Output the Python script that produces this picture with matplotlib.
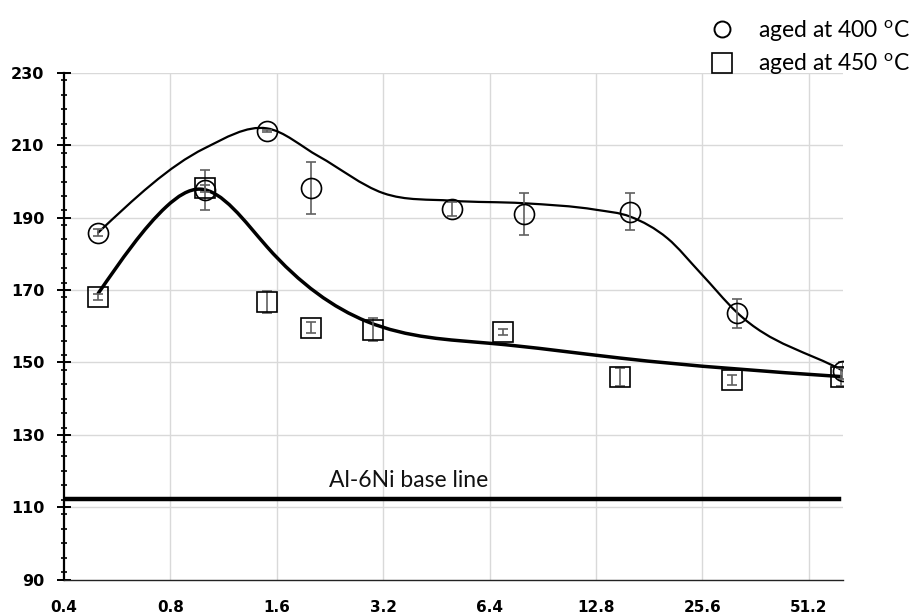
import numpy as np
import matplotlib
matplotlib.use("Agg")
import matplotlib.pyplot as plt
from matplotlib.path import Path
from matplotlib.patches import PathPatch
from matplotlib.lines import Line2D

plt.rcParams['font.family'] = ['Lato', 'DejaVu Sans']
plt.rcParams['mathtext.fontset'] = 'custom'
plt.rcParams['mathtext.rm'] = 'Lato'

# ---------------- data ----------------
x400 = [0.5, 1.0, 1.5, 2.0, 5.0, 8.0, 16.0, 32.0, 64.0]
y400 = [185.9, 197.7, 214.0, 198.2, 192.4, 191.0, 191.7, 163.6, 147.7]
e400 = [1.0, 5.6, 0.3, 7.1, 2.0, 5.7, 5.0, 4.0, 2.3]

x450 = [0.5, 1.0, 1.5, 2.0, 3.0, 7.0, 15.0, 31.0, 63.0]
y450 = [168.1, 198.1, 166.7, 159.6, 159.0, 158.5, 145.9, 145.2, 145.9]
e450 = [0.9, 1.0, 3.0, 1.6, 3.2, 0.8, 2.5, 1.4, 2.5]

# smooth trend-curve anchor points
cx400 = [0.5, 1.0, 1.5, 2.1, 3.2, 5.0, 8.0, 12.8, 16.0, 20.4, 25.3, 32.0, 64.0]
cy400 = [185.9, 209.2, 214.7, 207.0, 196.8, 194.7, 194.0, 192.2, 190.3, 184.3, 174.7, 163.9, 147.7]

cx450 = [0.5, 0.78, 0.97, 1.5, 2.88, 6.4, 15.0, 63.0]
cy450 = [169.1, 193.1, 197.9, 182.0, 161.3, 155.3, 151.2, 146.1]

baseline_y = 112.3
baseline_label = "Al-6Ni base line"

xticks = [0.4, 0.8, 1.6, 3.2, 6.4, 12.8, 25.6, 51.2]
xticklabels = ["0.4", "0.8", "1.6", "3.2", "6.4", "12.8", "25.6", "51.2"]
yticks = [90, 110, 130, 150, 170, 190, 210, 230]

label400 = r"aged at 400 $^{\mathrm{o}}$C"
label450 = r"aged at 450 $^{\mathrm{o}}$C"


def natural_slopes(u, v):
    n = len(u)
    h = np.diff(u)
    A = np.zeros((n, n))
    r = np.zeros(n)
    A[0, 0] = 1.0
    A[-1, -1] = 1.0
    for i in range(1, n - 1):
        A[i, i - 1] = h[i - 1]
        A[i, i] = 2 * (h[i - 1] + h[i])
        A[i, i + 1] = h[i]
        r[i] = 6 * ((v[i + 1] - v[i]) / h[i] - (v[i] - v[i - 1]) / h[i - 1])
    M = np.linalg.solve(A, r)
    m = np.zeros(n)
    for i in range(n - 1):
        m[i] = (v[i + 1] - v[i]) / h[i] - h[i] * (2 * M[i] + M[i + 1]) / 6
    m[-1] = (v[-1] - v[-2]) / h[-1] + h[-1] * (M[-2] + 2 * M[-1]) / 6
    return m


def bessel_slopes(u, v):
    n = len(u)
    h = np.diff(u)
    d = np.diff(v) / h
    m = np.zeros(n)
    for i in range(1, n - 1):
        m[i] = (h[i] * d[i - 1] + h[i - 1] * d[i]) / (h[i - 1] + h[i])
    m[0] = 1.5 * d[0] - 0.5 * m[1]
    m[-1] = d[-1]
    return m


def smooth_path(xs, ys, slopes):
    """Cubic Hermite segments as Bezier curves, built in log2(x) space."""
    u = np.log2(np.asarray(xs, float))
    v = np.asarray(ys, float)
    m = slopes(u, v)
    verts = [(2 ** u[0], v[0])]
    codes = [Path.MOVETO]
    for i in range(len(u) - 1):
        h = u[i + 1] - u[i]
        c1 = (u[i] + h / 3, v[i] + m[i] * h / 3)
        c2 = (u[i + 1] - h / 3, v[i + 1] - m[i + 1] * h / 3)
        verts += [(2 ** c1[0], c1[1]), (2 ** c2[0], c2[1]), (2 ** u[i + 1], v[i + 1])]
        codes += [Path.CURVE4] * 3
    return Path(verts, codes)


W, H = 917, 616
fig = plt.figure(figsize=(W / 100, H / 100), dpi=100)
ax = fig.add_axes([64 / W, 1 - 579.5 / H, (843 - 64) / W, (579.5 - 73) / H])

ax.set_xscale('log', base=2)
ax.set_xlim(0.4, 64)
ax.set_ylim(90, 230)

# grid
for t in xticks[1:]:
    ax.axvline(t, color='#d9d9d9', lw=1.0, zorder=0)
for t in yticks[1:]:
    ax.axhline(t, color='#d9d9d9', lw=1.0, zorder=0)

# baseline
ax.axhline(baseline_y, xmin=0, xmax=(839 - 64) / (843 - 64), color='black', lw=3.2, zorder=3)
ax.text(2.25, 115.6, baseline_label, ha='left', va='baseline', fontsize=16.5, color='#111111')

# trend curves
ax.add_patch(PathPatch(smooth_path(cx400, cy400, bessel_slopes), fill=False, ec='black',
                       lw=1.6, zorder=4, capstyle='round', joinstyle='round'))
ax.add_patch(PathPatch(smooth_path(cx450, cy450, natural_slopes), fill=False, ec='black',
                       lw=2.5, zorder=4, capstyle='round', joinstyle='round'))

# data with error bars
ax.errorbar(x400, y400, yerr=e400, fmt='none', ecolor='#606060', elinewidth=1.2,
            capsize=3.8, capthick=1.2, zorder=5)
ax.errorbar(x450, y450, yerr=e450, fmt='none', ecolor='#606060', elinewidth=1.2,
            capsize=3.8, capthick=1.2, zorder=5)
ax.plot(x400, y400, ls='none', marker='o', ms=14.4, mfc='none', mec='black', mew=1.2, zorder=6)
ax.plot(x450, y450, ls='none', marker='s', ms=14.0, mfc='none', mec='black', mew=1.2, zorder=6)

# axes styling
for s in ['top', 'right']:
    ax.spines[s].set_visible(False)
ax.spines['left'].set_linewidth(1.6)
ax.spines['left'].set_color('black')
ax.spines['bottom'].set_linewidth(1.0)
ax.spines['bottom'].set_color('#222222')

ax.set_yticks(yticks)
ax.set_yticklabels([str(t) for t in yticks], fontfamily='DejaVu Sans', fontweight='bold', fontsize=11.5)
ax.yaxis.set_minor_locator(matplotlib.ticker.MultipleLocator(4))
ax.tick_params(axis='y', which='major', direction='inout', length=10, width=1.4, pad=9)
ax.tick_params(axis='y', which='minor', direction='inout', length=4.3, width=1.2)

ax.set_xticks(xticks)
ax.set_xticklabels(xticklabels, fontfamily='DejaVu Sans', fontweight='bold', fontsize=11)
ax.xaxis.set_minor_locator(matplotlib.ticker.NullLocator())
ax.tick_params(axis='x', which='major', length=0, pad=15)

# legend
handles = [
    Line2D([], [], ls='none', marker='o', ms=11.5, mfc='none', mec='black', mew=1.4),
    Line2D([], [], ls='none', marker='s', ms=15, mfc='none', mec='black', mew=1.2),
]
fig.legend(handles, [label400, label450], loc='upper left',
           bbox_to_anchor=(710.5 / W, 1 - 18 / H), frameon=False, fontsize=16.5,
           handlelength=1.0, handletextpad=1.07, labelspacing=0.35, borderpad=0,
           borderaxespad=0)

fig.savefig('out.png', dpi=100)
